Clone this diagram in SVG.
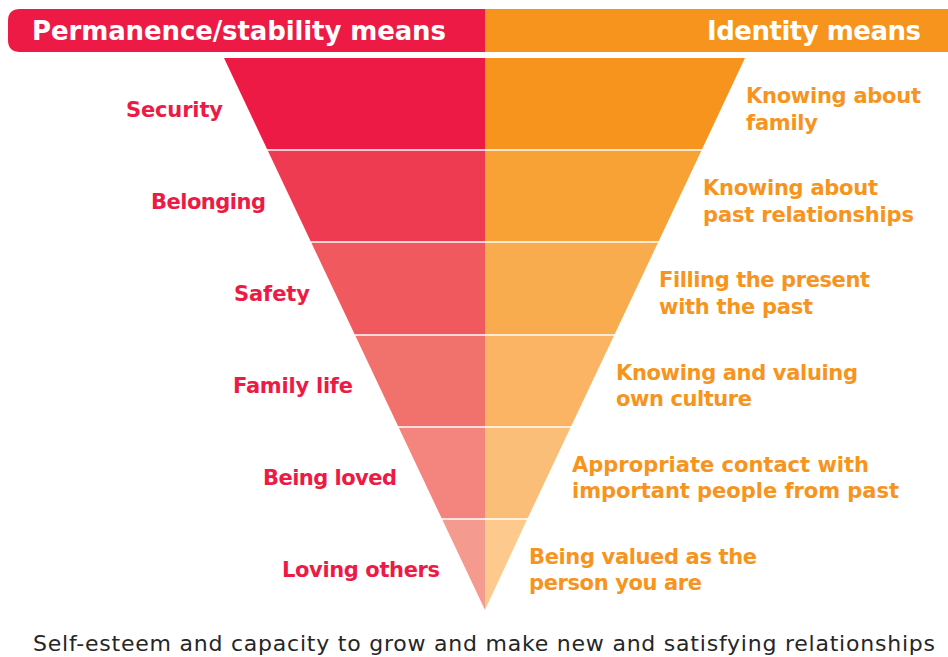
<svg xmlns="http://www.w3.org/2000/svg" width="948" height="657" viewBox="0 0 948 657">
<style>
text{font-family:"DejaVu Sans","Liberation Sans",sans-serif}
.hd{font-weight:700;font-size:26px;fill:#fff}
.lt{font-weight:700;font-size:21px;fill:#ED1A45}
.rt{font-weight:700;font-size:21px;fill:#F7941D}
.ft{font-size:22px;fill:#262626}
.sep{stroke:#fff;stroke-width:1.6}
</style>
<rect width="948" height="657" fill="#fff"/>
<g id="header">
<path d="M485 9 H20 Q8 9 8 21 V40 Q8 52 20 52 H485 Z" fill="#ED1A45"/>
<rect x="485" y="9" width="463" height="43" fill="#F7941D"/>
<text class="hd" x="32" y="40" textLength="414">Permanence/stability means</text>
<text class="hd" x="707" y="40" textLength="214">Identity means</text>
</g>
<g id="pyramid">
<g id="band1"><polygon points="224,58 485,58 485,150 267.5,150" fill="#ED1A45"/><polygon points="485,58 745,58 701.7,150 485,150" fill="#F7941D"/></g>
<g id="band2"><polygon points="267.5,150 485,150 485,242 311,242" fill="#EE3B52"/><polygon points="485,150 701.7,150 658.3,242 485,242" fill="#F8A236"/></g>
<g id="band3"><polygon points="311,242 485,242 485,335 355,335" fill="#F05A5F"/><polygon points="485,242 658.3,242 614.3,335 485,335" fill="#F9AC4E"/></g>
<g id="band4"><polygon points="355,335 485,335 485,427 398.5,427" fill="#F1716C"/><polygon points="485,335 614.3,335 570.8,427 485,427" fill="#FAB464"/></g>
<g id="band5"><polygon points="398.5,427 485,427 485,519 442,519" fill="#F3857E"/><polygon points="485,427 570.8,427 527.3,519 485,519" fill="#FBBE79"/></g>
<g id="band6"><polygon points="442,519 485,519 485,610" fill="#F59A8F"/><polygon points="485,519 527.3,519 485,610" fill="#FDC98C"/></g>
</g>
<g id="connectors">
<line class="sep" x1="267" y1="150" x2="702" y2="150"/>
<line class="sep" x1="311" y1="242" x2="659" y2="242"/>
<line class="sep" x1="355" y1="335" x2="615" y2="335"/>
<line class="sep" x1="398" y1="427" x2="571" y2="427"/>
<line class="sep" x1="441" y1="519" x2="528" y2="519"/>
</g>
<g id="left-labels">
<text id="l1" class="lt" x="126" y="117" textLength="97">Security</text>
<text id="l2" class="lt" x="151" y="209" textLength="115">Belonging</text>
<text id="l3" class="lt" x="234" y="301" textLength="76">Safety</text>
<text id="l4" class="lt" x="233" y="393" textLength="120">Family life</text>
<text id="l5" class="lt" x="263" y="485" textLength="134">Being loved</text>
<text id="l6" class="lt" x="282" y="577" textLength="158">Loving others</text>
</g>
<g id="right-labels">
<g id="r1"><text class="rt" x="746" y="103" textLength="175">Knowing about</text><text class="rt" x="746" y="130" textLength="72">family</text></g>
<g id="r2"><text class="rt" x="703" y="195" textLength="175">Knowing about</text><text class="rt" x="703" y="222" textLength="211">past relationships</text></g>
<g id="r3"><text class="rt" x="659" y="287" textLength="211">Filling the present</text><text class="rt" x="659" y="314" textLength="154">with the past</text></g>
<g id="r4"><text class="rt" x="616" y="380" textLength="242">Knowing and valuing</text><text class="rt" x="616" y="406" textLength="136">own culture</text></g>
<g id="r5"><text class="rt" x="572" y="472" textLength="297">Appropriate contact with</text><text class="rt" x="572" y="498" textLength="327">important people from past</text></g>
<g id="r6"><text class="rt" x="529" y="564" textLength="228">Being valued as the</text><text class="rt" x="529" y="590" textLength="173">person you are</text></g>
</g>
<g id="footer">
<text class="ft" x="33" y="651" textLength="902">Self-esteem and capacity to grow and make new and satisfying relationships</text>
</g>
</svg>
